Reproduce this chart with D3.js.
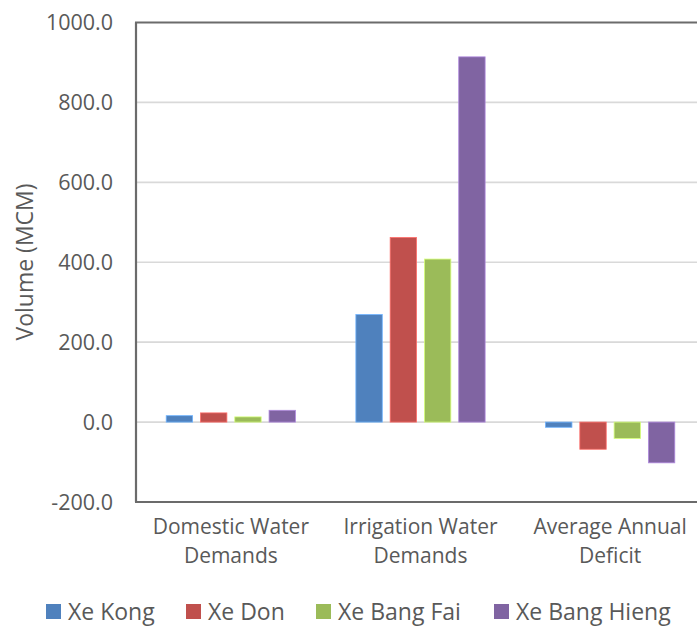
<!DOCTYPE html>
<html>
<head>
<meta charset="utf-8">
<script src="https://cdn.jsdelivr.net/npm/d3@7"></script>
<style>
  html, body { margin: 0; padding: 0; background: #ffffff; }
  svg { display: block; font-family: "Open Sans", "Liberation Sans", sans-serif; }
</style>
</head>
<body>
<div id="chart"></div>
<script>
// Water volumes per basin (MCM)
const categories = [["Domestic Water", "Demands"], ["Irrigation Water", "Demands"], ["Average Annual", "Deficit"]];
const seriesNames = ["Xe Kong", "Xe Don", "Xe Bang Fai", "Xe Bang Hieng"];
const xeKong = [16, 269, -13];
const xeDon = [23, 462, -68];
const xeBangFai = [13, 408, -41];
const xeBangHieng = [29.5, 914, -102];
const yTicks = [-200, 0, 200, 400, 600, 800, 1000];
const colors = ["#4F81BD", "#C0504D", "#9BBB59", "#8064A2"];

const seriesValues = [xeKong, xeDon, xeBangFai, xeBangHieng];
const catKeys = categories.map(c => c.join(" "));

const W = 697, H = 626;
const svg = d3.select("#chart").append("svg").attr("width", W).attr("height", H);
svg.append("rect").attr("width", W).attr("height", H).attr("fill", "#fff");

const plotLeft = 136, plotRight = 705, plotTop = 22.5, plotBottom = 502;
const textColor = "#595959";

const y = d3.scaleLinear().domain([-200, 1000]).range([plotBottom, plotTop]);
const x0 = d3.scaleBand().domain(catKeys).range([plotLeft, plotRight])
  .paddingInner(0.277).paddingOuter(0.1385);
const x1 = d3.scaleBand().domain(seriesNames).range([0, x0.bandwidth()])
  .paddingInner(0.23).paddingOuter(0.115);

// gridlines
svg.append("g").selectAll("line").data(yTicks.filter(t => t !== -200 && t !== 1000)).join("line")
  .attr("x1", plotLeft).attr("x2", plotRight)
  .attr("y1", d => y(d)).attr("y2", d => y(d))
  .attr("stroke", "#d9d9d9").attr("stroke-width", 1.6);

// bars
const groups = svg.append("g").selectAll("g").data(catKeys).join("g")
  .attr("transform", d => `translate(${x0(d)},0)`);
groups.selectAll("rect")
  .data((d, i) => seriesNames.map((s, j) => ({ s, j, v: seriesValues[j][i] })))
  .join("rect")
  .attr("x", d => x1(d.s))
  .attr("width", x1.bandwidth())
  .attr("y", d => y(Math.max(0, d.v)))
  .attr("height", d => Math.abs(y(d.v) - y(0)))
  .attr("fill", d => colors[d.j])
  .attr("stroke", d => d3.color(colors[d.j]).brighter(0.9))
  .attr("stroke-width", 0.8);

// frame: left axis, top and bottom borders
const frame = svg.append("g").attr("stroke", "#6b6b6b").attr("stroke-width", 2.2).attr("fill", "none");
frame.append("line").attr("x1", plotLeft).attr("x2", plotLeft).attr("y1", plotTop).attr("y2", plotBottom);
frame.append("line").attr("x1", plotLeft - 1).attr("x2", plotRight).attr("y1", plotTop).attr("y2", plotTop);
frame.append("line").attr("x1", plotLeft - 1).attr("x2", plotRight).attr("y1", plotBottom).attr("y2", plotBottom);

// y tick labels (plain hyphen for negatives)
svg.append("g").selectAll("text").data(yTicks).join("text")
  .attr("x", 113).attr("y", d => y(d))
  .attr("dy", "0.36em")
  .attr("text-anchor", "end")
  .attr("fill", textColor)
  .style("font-size", "21.5px")
  .text(d => d.toFixed(1));

// y axis title
svg.append("text")
  .attr("transform", `translate(33,262) rotate(-90)`)
  .attr("text-anchor", "middle")
  .attr("fill", textColor)
  .style("font-size", "23px")
  .text("Volume (MCM)");

// category labels
const catLabels = svg.append("g").selectAll("text").data(categories).join("text")
  .attr("text-anchor", "middle")
  .attr("fill", textColor)
  .style("font-size", "21px");
catLabels.selectAll("tspan").data((d, i) => d.map(line => ({ line, i }))).join("tspan")
  .attr("x", d => x0(catKeys[d.i]) + x0.bandwidth() / 2)
  .attr("y", (d, k) => 534 + k * 28.5)
  .text(d => d.line);

// legend
const legendX = [46, 186, 316, 494];
const legend = svg.append("g").selectAll("g").data(seriesNames).join("g")
  .attr("transform", (d, i) => `translate(${legendX[i]},604)`);
legend.append("rect").attr("width", 15).attr("height", 15)
  .attr("fill", (d, i) => colors[i]);
legend.append("text")
  .attr("x", 22).attr("y", 7.5).attr("dy", "0.36em")
  .attr("fill", textColor)
  .style("font-size", "23px")
  .text(d => d);
</script>
</body>
</html>
